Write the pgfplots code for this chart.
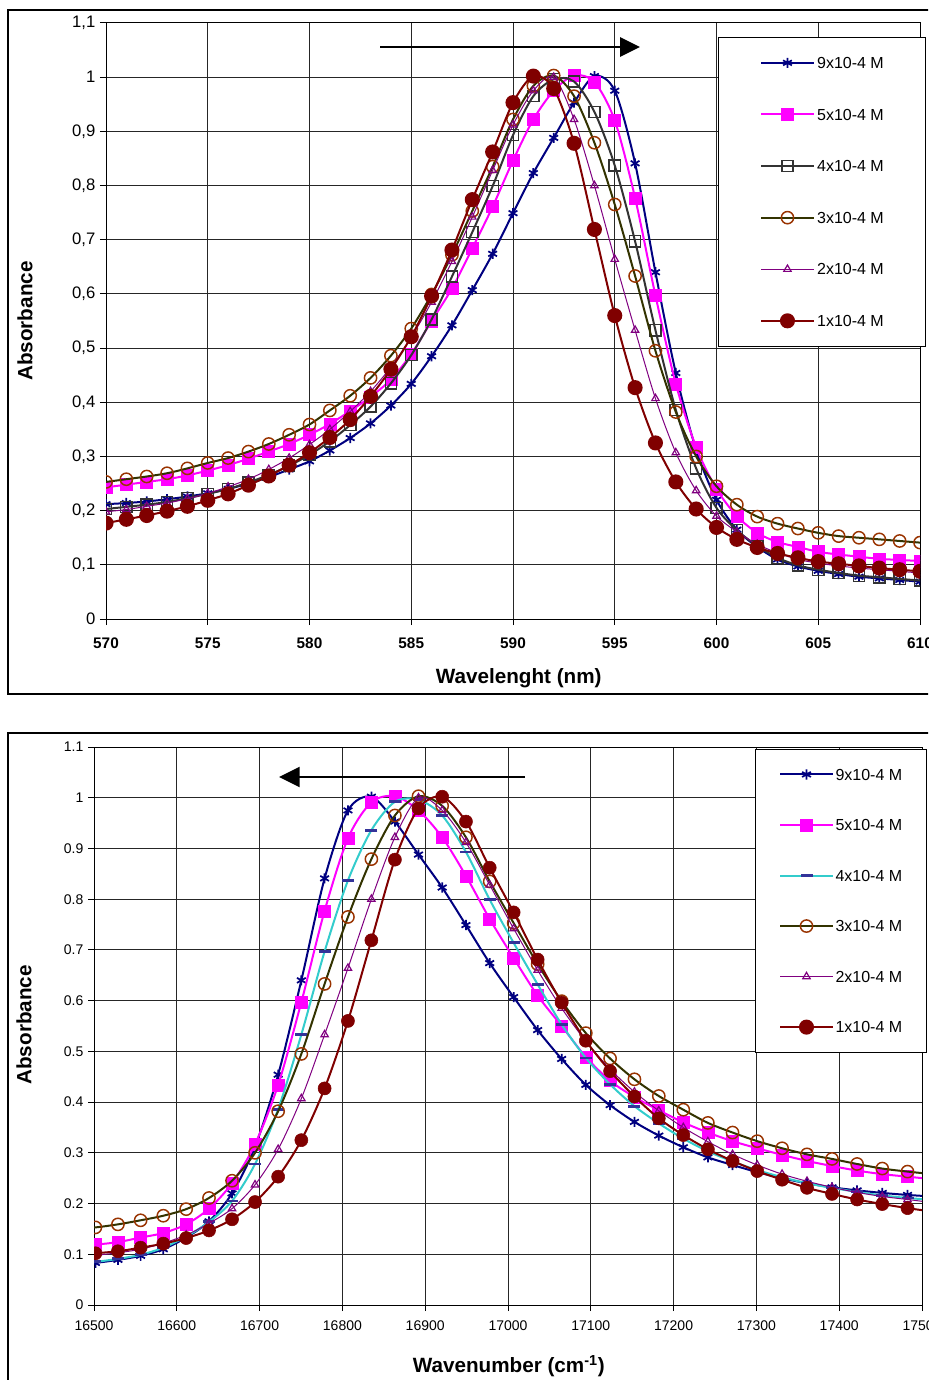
\documentclass[border=0pt]{standalone}
\usepackage{pgfplots}
\pgfplotsset{compat=1.18}
\usepackage{pgfplotstable}
\usetikzlibrary{arrows.meta}
\usepackage{fontspec}
\setmainfont{Liberation Sans}

\definecolor{c9}{HTML}{000080}
\definecolor{c5}{HTML}{FF00FF}
\definecolor{c4}{HTML}{333333}
\definecolor{c4b}{HTML}{33CCCC}
\definecolor{c4m}{HTML}{333399}
\definecolor{c3}{HTML}{333300}
\definecolor{c3m}{HTML}{993300}
\definecolor{c2}{HTML}{800080}
\definecolor{c1}{HTML}{800000}

\pgfplotstableread{
wl wn s9 s5 s4 s3 s2 s1
570 17543.9 0.212 0.243 0.203 0.253 0.198 0.177
571 17513.1 0.214 0.248 0.207 0.258 0.202 0.184
572 17482.5 0.217 0.253 0.211 0.263 0.208 0.191
573 17452.0 0.221 0.258 0.216 0.269 0.214 0.199
574 17421.6 0.226 0.265 0.223 0.278 0.222 0.208
575 17391.3 0.232 0.274 0.231 0.288 0.232 0.219
576 17361.1 0.240 0.284 0.240 0.297 0.244 0.231
577 17331.0 0.250 0.296 0.252 0.309 0.258 0.247
578 17301.0 0.262 0.309 0.266 0.323 0.276 0.264
579 17271.2 0.276 0.323 0.283 0.340 0.297 0.284
580 17241.4 0.291 0.340 0.303 0.359 0.322 0.307
581 17211.7 0.311 0.360 0.328 0.385 0.350 0.335
582 17182.1 0.334 0.384 0.358 0.412 0.383 0.368
583 17152.7 0.361 0.410 0.392 0.445 0.420 0.411
584 17123.3 0.394 0.442 0.435 0.486 0.465 0.461
585 17094.0 0.434 0.489 0.487 0.536 0.520 0.521
586 17064.8 0.485 0.550 0.553 0.599 0.585 0.596
587 17035.8 0.542 0.610 0.632 0.672 0.660 0.681
588 17006.8 0.607 0.684 0.714 0.753 0.742 0.774
589 16977.9 0.674 0.761 0.799 0.835 0.828 0.862
590 16949.2 0.749 0.846 0.893 0.922 0.912 0.953
591 16920.5 0.823 0.922 0.965 0.984 0.975 1.002
592 16891.9 0.888 0.975 0.996 1.003 1.000 0.979
593 16863.4 0.953 1.003 0.992 0.965 0.922 0.878
594 16835.0 1.002 0.991 0.936 0.879 0.800 0.719
595 16806.7 0.975 0.920 0.837 0.765 0.664 0.560
596 16778.5 0.841 0.777 0.697 0.633 0.533 0.427
597 16750.4 0.640 0.597 0.533 0.495 0.407 0.325
598 16722.4 0.454 0.434 0.386 0.382 0.307 0.253
599 16694.5 0.312 0.317 0.278 0.300 0.237 0.203
600 16666.7 0.220 0.240 0.205 0.245 0.190 0.169
601 16638.9 0.165 0.190 0.164 0.211 0.161 0.147
602 16611.3 0.133 0.159 0.135 0.189 0.138 0.132
603 16583.7 0.110 0.142 0.113 0.176 0.122 0.121
604 16556.3 0.097 0.133 0.099 0.167 0.110 0.113
605 16528.9 0.089 0.124 0.091 0.159 0.103 0.106
606 16501.7 0.083 0.119 0.085 0.153 0.098 0.102
607 16474.5 0.078 0.115 0.080 0.150 0.094 0.098
608 16447.4 0.075 0.111 0.077 0.147 0.091 0.094
609 16420.4 0.072 0.109 0.074 0.144 0.088 0.091
610 16393.4 0.069 0.107 0.071 0.141 0.085 0.088
}\data

\tikzset{
 l9/.style={color=c9, line width=1.5pt, smooth},
 m9/.style={mark=asterisk, mark size=3.8pt, mark options={color=c9, line width=1.3pt, solid}},
 l5/.style={color=c5, line width=1.5pt, smooth},
 m5/.style={mark=square*, mark size=4.5pt, mark options={color=c5, fill=c5, line width=0.5pt, solid}},
 l4/.style={color=c4, line width=1.5pt, smooth},
 m4/.style={mark=square, mark size=4.2pt, mark options={color=c4, line width=1.1pt, solid}},
 l4b/.style={color=c4b, line width=1.5pt, smooth},
 m4b/.style={mark=-, mark size=4.5pt, mark options={color=c4m, line width=2.2pt, solid}},
 l3/.style={color=c3, line width=1.5pt, smooth},
 m3/.style={mark=o, mark size=4.6pt, mark options={color=c3m, line width=1.1pt, solid}},
 l2/.style={color=c2, line width=0.75pt, smooth},
 m2/.style={mark=triangle, mark size=3.2pt, mark options={color=c2, line width=0.9pt, solid}},
 l1/.style={color=c1, line width=1.5pt, smooth},
 m1/.style={mark=*, mark size=4.9pt, mark options={color=c1, fill=c1, solid}},
}
\pgfplotsset{
 legend image code/.code={\draw[mark repeat=2,mark phase=2,#1] plot coordinates {(0pt,0pt) (19.5pt,0pt) (39pt,0pt)};},
 myaxis/.style={
  scale only axis,
  axis line style={black, line width=0.75pt},
  grid=major, major grid style={black!85, line width=0.75pt},
  tick style={black, line width=0.75pt},
  tick align=outside, major tick length=4.5pt, tick pos=left,
  clip marker paths=true,
  /pgf/number format/assume math mode=true,
  legend cell align=left,
  ymin=0, ymax=1.1,
  ytick={0,0.1,0.2,0.3,0.4,0.5,0.6,0.7,0.8,0.9,1,1.1},
 },
}

\begin{document}
\begin{tikzpicture}
\useasboundingbox (0,0) rectangle (696pt,-1035pt);
\clip (0,0) rectangle (696pt,-1035pt);

% ---------- Panel 1 ----------
\begin{axis}[myaxis,
 at={(79.5pt,-464.25pt)}, anchor=south west,
 width=610.5pt, height=447pt,
 xmin=570, xmax=610, xtick={570,575,...,610},
 yticklabel style={/pgf/number format/use comma, font=\fontsize{12.5}{14}\selectfont},
 xticklabel style={font=\fontsize{11.5}{13}\selectfont\bfseries, yshift=-6pt},
 xlabel={Wavelenght (nm)}, ylabel={Absorbance},
 every axis x label/.style={at={(axis description cs:0.507,-0.1074)}, anchor=base, font=\fontsize{15.5}{18}\selectfont\bfseries},
 every axis y label/.style={at={(axis description cs:-0.0995,0.5)}, rotate=90, anchor=center, font=\fontsize{15.5}{18}\selectfont\bfseries},
 legend style={at={(0.7518,0.9765)}, anchor=north west, draw=black, line width=0.75pt, fill=white,
   font=\fontsize{12}{14}\selectfont, inner xsep=31.5pt, inner ysep=13.5pt, row sep=27.7pt, column sep=2pt,
   nodes={inner sep=0pt, text height=9.8pt, text depth=1.2pt}},
]
\addplot[l9,m9] table[x=wl,y=s9]{\data};
\addplot[l5,m5] table[x=wl,y=s5]{\data};
\addplot[l4,m4] table[x=wl,y=s4]{\data};
\addplot[l3,m3] table[x=wl,y=s3]{\data};
\addplot[l2,m2] table[x=wl,y=s2]{\data};
\addplot[l1,m1] table[x=wl,y=s1]{\data};
\legend{9x10-4 M,5x10-4 M,4x10-4 M,3x10-4 M,2x10-4 M,1x10-4 M}
\end{axis}

% ---------- Panel 2 ----------
\begin{axis}[myaxis,
 at={(70.5pt,-978.75pt)}, anchor=south west,
 width=621pt, height=418.5pt,
 xmin=16500, xmax=17500, xtick={16500,16600,...,17500},
 scaled x ticks=false,
 xticklabel style={/pgf/number format/1000 sep={}, font=\fontsize{10.5}{12}\selectfont, yshift=-3.75pt},
 yticklabel style={font=\fontsize{10.5}{12}\selectfont},
 xlabel={Wavenumber (cm\textsuperscript{-1})}, ylabel={Absorbance},
 every axis x label/.style={at={(axis description cs:0.501,-0.121)}, anchor=base, font=\fontsize{15.5}{18}\selectfont\bfseries},
 every axis y label/.style={at={(axis description cs:-0.0845,0.502)}, rotate=90, anchor=center, font=\fontsize{15.5}{18}\selectfont\bfseries},
 legend style={at={(0.7983,0.9971)}, anchor=north west, draw=black, line width=0.75pt, fill=white,
   font=\fontsize{12}{14}\selectfont, inner xsep=18pt, inner ysep=13.5pt, row sep=26.9pt, column sep=1.5pt,
   nodes={inner sep=0pt, text height=9.8pt, text depth=1.2pt}},
 legend entries={9x10-4 M,5x10-4 M,4x10-4 M,3x10-4 M,2x10-4 M,1x10-4 M},
]
\addplot[l9, legend image post style={m9}] table[x=wn,y=s9]{\data};
\addplot[m9, only marks, forget plot, restrict x to domain=16490:17490] table[x=wn,y=s9]{\data};
\addplot[l5, legend image post style={m5}] table[x=wn,y=s5]{\data};
\addplot[m5, only marks, forget plot, restrict x to domain=16490:17490] table[x=wn,y=s5]{\data};
\addplot[l4b, legend image post style={m4b}] table[x=wn,y=s4]{\data};
\addplot[m4b, only marks, forget plot, restrict x to domain=16490:17490] table[x=wn,y=s4]{\data};
\addplot[l3, legend image post style={m3}] table[x=wn,y=s3]{\data};
\addplot[m3, only marks, forget plot, restrict x to domain=16490:17490] table[x=wn,y=s3]{\data};
\addplot[l2, legend image post style={m2}] table[x=wn,y=s2]{\data};
\addplot[m2, only marks, forget plot, restrict x to domain=16490:17490] table[x=wn,y=s2]{\data};
\addplot[l1, legend image post style={m1}] table[x=wn,y=s1]{\data};
\addplot[m1, only marks, forget plot, restrict x to domain=16490:17490] table[x=wn,y=s1]{\data};
\end{axis}

\begin{scope}[x=0.75pt,y=-0.75pt]
\draw[line width=1.1pt] (8,10) rectangle (1000,694);
\draw[line width=1.1pt] (8,733) rectangle (1000,1420);
\draw[line width=1.5pt, -{Triangle[length=15pt,width=14.5pt]}] (380,47) -- (640,47);
\draw[line width=1.5pt, -{Triangle[length=15.5pt,width=15pt]}] (525,777) -- (279,777);
\end{scope}
\end{tikzpicture}
\end{document}
